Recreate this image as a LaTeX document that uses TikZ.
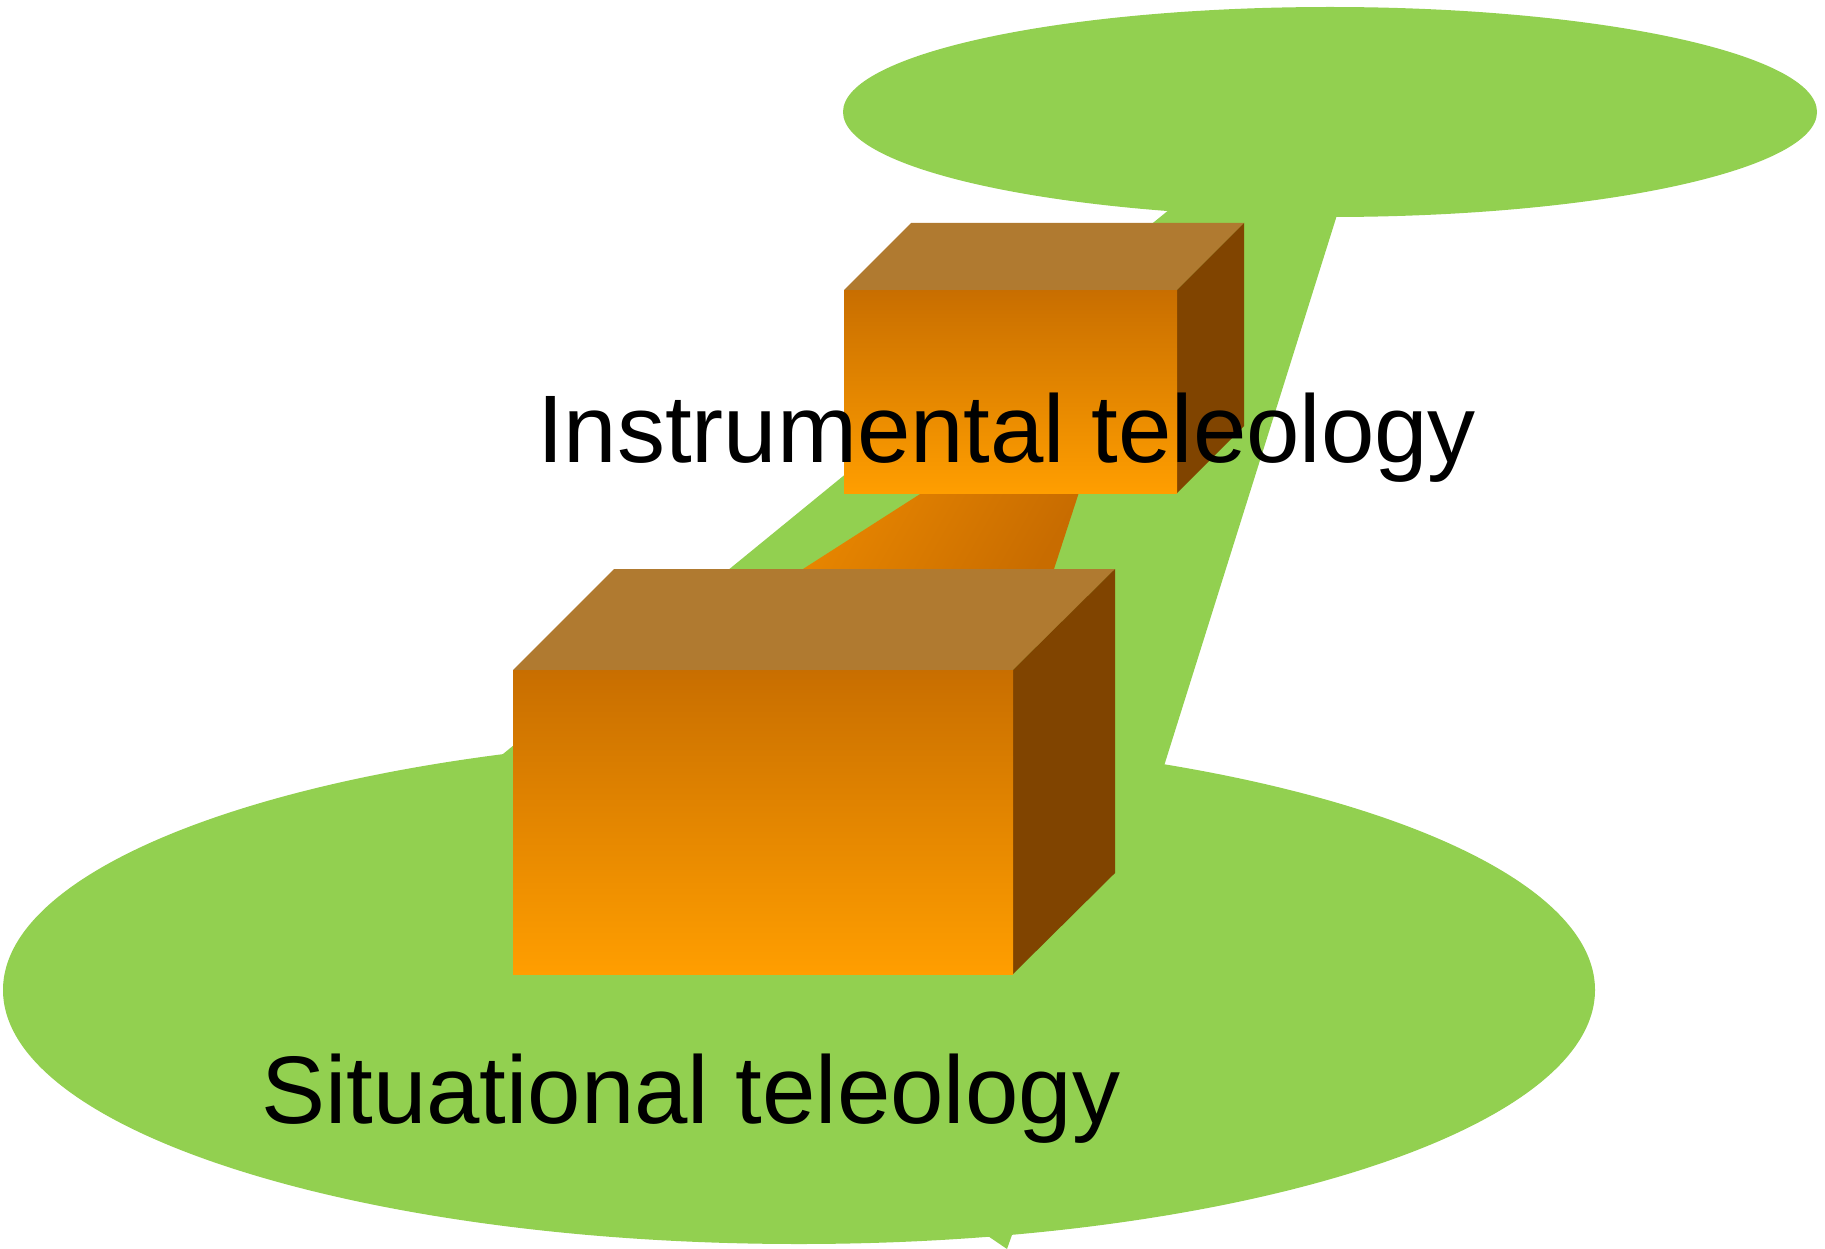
\documentclass[tikz,border=0pt]{standalone}
\usepackage{fontspec}
\setmainfont{Liberation Sans}
\definecolor{leaf}{HTML}{92D050}
\definecolor{boxtop}{HTML}{B07A30}
\definecolor{boxside}{HTML}{804400}
\definecolor{frontdark}{HTML}{C86E00}
\definecolor{frontlight}{HTML}{FF9E00}
\definecolor{linkdark}{HTML}{C86C00}
\definecolor{linklight}{HTML}{E88600}
\tikzset{
  green shape/.style={fill=leaf, draw=none},
  topface/.style={fill=boxtop, draw=none},
  sideface/.style={fill=boxside, draw=none},
  frontface/.style={top color=frontdark, bottom color=frontlight, draw=none},
  label text/.style={inner sep=0pt, outer sep=0pt, anchor=base west, text=black, font=\fontsize{96}{110}\selectfont}
}
\begin{document}
\begin{tikzpicture}[x=1pt,y=-1pt]
\useasboundingbox (0,0) rectangle (1825,1249);
% green callout shapes
\fill[green shape] (1330,112) ellipse [x radius=487, y radius=105];
\fill[green shape] (799,990) ellipse [x radius=796, y radius=254];
\fill[green shape] (1170,209) -- (1337,215) -- (1164,766) -- (503,754) -- cycle;
\fill[green shape] (985,1234) -- (1007,1249) -- (1013,1232) -- cycle;
% orange link between the boxes
\shade[left color=linklight, right color=linkdark, shading angle=60] (942,480) -- (1083,480) -- (1054,569) -- (803,569) -- cycle;
% top box
\fill[topface] (844,290) -- (911,223) -- (1244,223) -- (1177,290) -- cycle;
\fill[sideface] (1177,290) -- (1244,223) -- (1244,426) -- (1177,493) -- cycle;
\shade[frontface] (844,290) rectangle (1177,493);
% bottom box
\fill[topface] (513,670) -- (614,569) -- (1115,569) -- (1013,670) -- cycle;
\fill[sideface] (1013,670) -- (1115,569) -- (1115,873) -- (1013,974) -- cycle;
\shade[frontface] (513,670) rectangle (1013,974);
% labels
\node[label text] (instr) at (537,462) {Instrumental teleology};
\node[label text] (situ) at (261,1123) {Situational teleology};
\end{tikzpicture}
\end{document}
